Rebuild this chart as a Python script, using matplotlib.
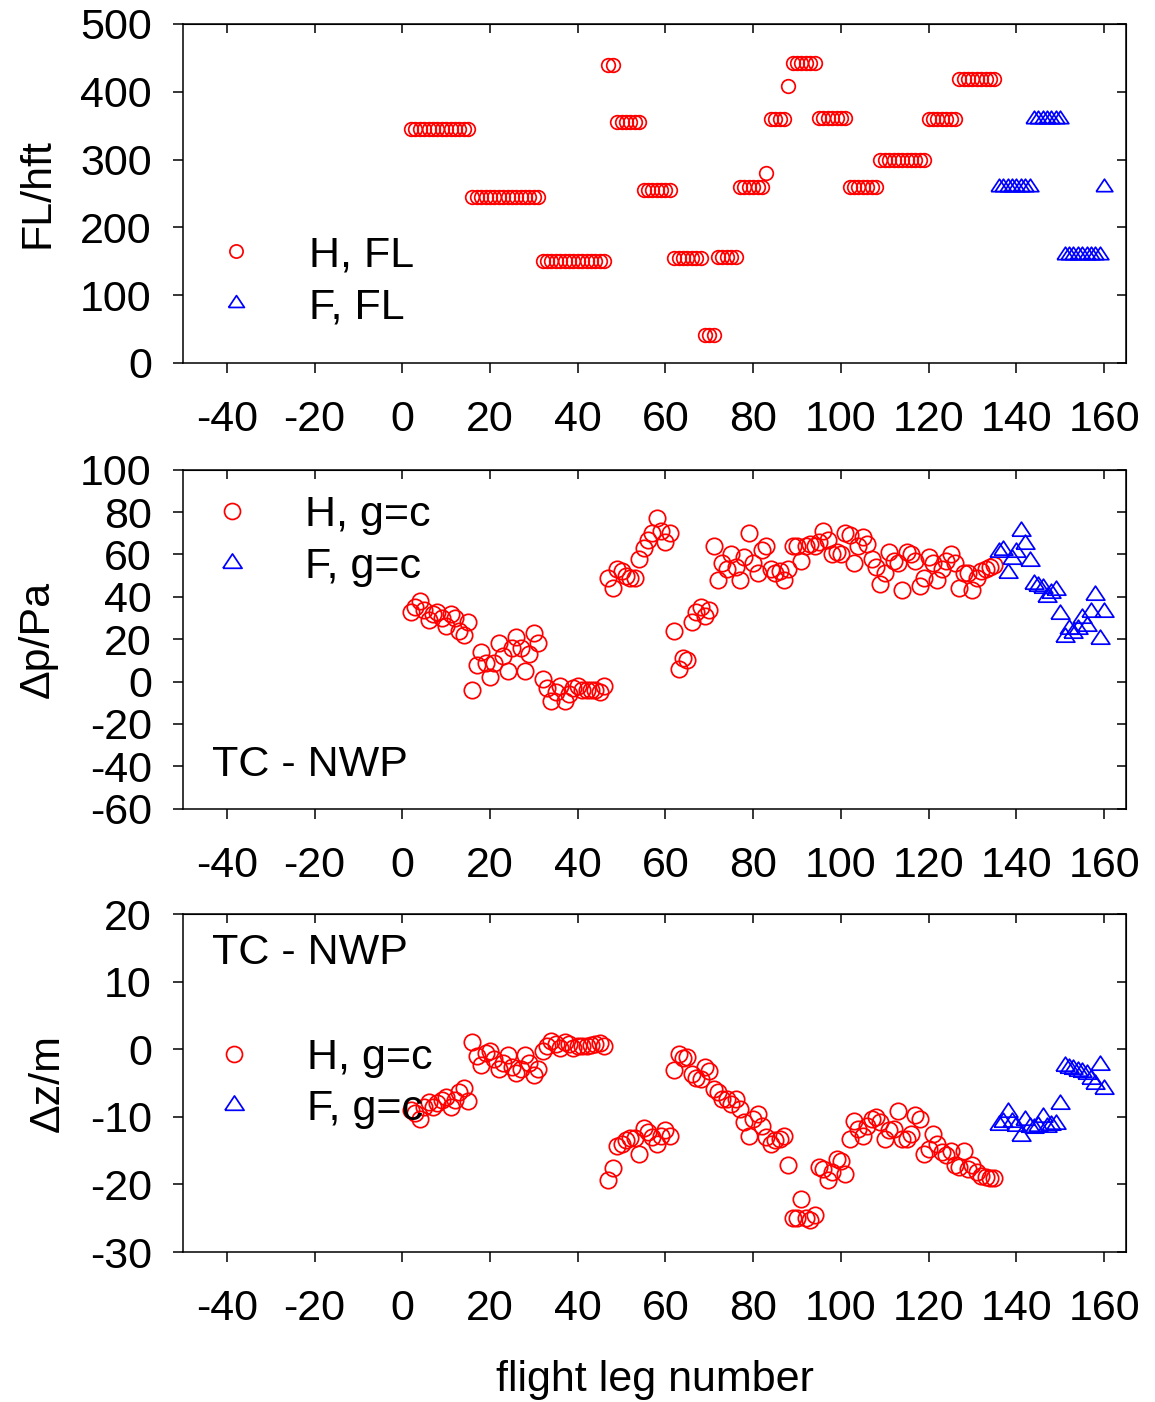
import numpy as np
import matplotlib
matplotlib.use('Agg')
import matplotlib.pyplot as plt
from matplotlib.lines import Line2D

plt.rcParams['font.family'] = ['Liberation Sans', 'DejaVu Sans']
plt.rcParams['axes.unicode_minus'] = False

# ---------------- data ----------------
legs_H = list(range(2, 136))
legs_F = list(range(136, 161))

fl_H = ([345] * 14 + [245] * 16 + [150] * 15 + [440] * 2 + [355] * 6 + [255] * 7 +
        [155] * 7 + [42] * 3 + [157] * 5 + [260] * 6 + [280] + [360] * 4 + [408] +
        [442] * 6 + [361] * 7 + [259] * 7 + [300] * 11 + [360] * 7 + [419] * 9)
fl_F = [260] * 8 + [360] * 7 + [159] * 9 + [260]

dp_H = [33, 35, 38, 34, 29, 32, 33, 30, 26, 32, 30, 24, 22, 28,
        -4, 8, 14, 9, 2, 9, 18, 12, 5, 16, 21, 16, 5, 13, 23, 18,
        1, -3, -9, -5, -2, -9, -6, -3, -2, -4, -4, -4, -4, -5, -2,
        49, 44, 53, 52, 50, 49, 49, 58, 63, 67, 70, 77, 71, 66, 70,
        24, 6, 11, 10, 28, 33, 35, 31, 34,
        64, 48, 56, 53, 60, 54, 48, 59, 70, 56, 51, 62, 64, 53, 51,
        52, 48, 53, 64, 64, 57, 64, 65, 64, 66, 71, 67, 60, 61, 60,
        70, 69, 56, 64, 68, 65, 58, 54, 46, 51, 61, 57, 56, 43, 61,
        60, 57, 45, 49, 59, 56, 48, 53, 57, 60, 56, 44, 51, 51, 43,
        49, 52, 53, 54, 55]
dp_F = [61, 62, 51, 58, 61, 71, 65, 57, 46, 45, 44, 40, 42, 43, 32,
        21, 25, 23, 25, 30, 26, 33, 41, 20, 33]

dz_H = [-9, -9.5, -10.3, -8.5, -7.8, -8.6, -8, -7.5, -7, -8.5, -7.5, -6.3, -5.7, -7.6,
        1, -1, -2.3, -0.5, -0.3, -1.5, -3, -2, -0.8, -2.7, -3.5, -3, -0.8, -2, -3.8, -3,
        -0.2, 0.5, 1.2, 0.7, 0.2, 1, 0.7, 0.2, 0.5, 0.5, 0.5, 0.6, 0.7, 0.9, 0.4,
        -19.4, -17.5, -14.3, -14, -13.5, -13.2, -13.2, -15.5, -11.6, -12.3, -13, -14, -12.8, -12, -12.8,
        -3.1, -0.7, -1.3, -1.2, -3.7, -4.3, -4.4, -2.7,
        -3.2, -5.9, -6.4, -7.4, -7.3, -8.1, -7.3, -8.8, -10.8, -12.8,
        -10.3, -9.6, -11.3, -13, -14, -13.5, -13.3, -12.8, -17.2, -25,
        -25, -22.1, -25, -25.3, -24.6, -17.4, -17.7, -19.4, -18.2, -16.2,
        -16.5, -18.4, -13.3, -10.6, -11.8, -12.8, -11.3, -10.3, -10.1, -10.8,
        -13.3, -12, -11.8, -9.1, -13.3, -13.3, -12.5, -9.8, -10.3, -15.5,
        -14.7, -12.5, -14, -15.2, -15.7, -15, -17.2, -17.4, -15, -17.7,
        -17.2, -18.2, -18.7, -18.9, -19, -19]
dz_F = [-11.2, -10.8, -9.3, -10.8, -11.3, -12.8, -10.5, -11.5, -11.6, -11.3,
        -10, -11.5, -11.2, -11, -8.1, -2.5, -2.8, -3, -3.2, -3.4,
        -3.6, -4.4, -5.2, -2.4, -5.9]

x_ticks = [-40, -20, 0, 20, 40, 60, 80, 100, 120, 140, 160]
fl_ticks = [0, 100, 200, 300, 400, 500]
dp_ticks = [-60, -40, -20, 0, 20, 40, 60, 80, 100]
dz_ticks = [-30, -20, -10, 0, 10, 20]

# ---------------- layout ----------------
W, H = 1155, 1402
fig = plt.figure(figsize=(W / 100, H / 100), dpi=100)
L, R = 183, 1126
FS = 31
RED = '#ff0000'
BLUE = '#0000ff'
TRI = [(-1, -0.5), (1, -0.5), (0, 1.0), (-1, -0.5)]
MEW = 1.25


def make_ax(top, bottom):
    return fig.add_axes([L / W, 1 - bottom / H, (R - L) / W, (bottom - top) / H])


def style(ax, yt, ylim):
    ax.set_xlim(-50, 165)
    ax.set_ylim(*ylim)
    ax.set_xticks(x_ticks)
    ax.set_yticks(yt)
    for s in ax.spines.values():
        s.set_linewidth(1.1)
    ax.tick_params(axis='x', direction='out', length=7.5, width=1.1,
                   labelsize=FS, pad=19)
    ax.tick_params(axis='y', direction='out', length=7.5, width=1.1,
                   labelsize=FS, pad=15)
    sx = ax.secondary_xaxis('top')
    sx.set_xticks(x_ticks)
    sx.tick_params(direction='in', length=6.5, width=1.1, labeltop=False, labelbottom=False)
    sy = ax.secondary_yaxis('right')
    sy.set_yticks(yt)
    sy.tick_params(direction='in', length=6.5, width=1.1, labelright=False, labelleft=False)


def legend(ax, labels, ms, x, y):
    handles = [Line2D([], [], ls='none', marker='o', mfc='none', mec=RED, mew=MEW, ms=ms),
               Line2D([], [], ls='none', marker=TRI, mfc='none', mec=BLUE, mew=MEW, ms=ms * 1.2)]
    ax.legend(handles, labels, loc='upper left', bbox_to_anchor=(x, y), frameon=False,
              handlelength=1.0, handletextpad=1.2, labelspacing=0.27, borderpad=0,
              borderaxespad=0, fontsize=FS)


# top panel
ax1 = make_ax(24, 363)
ax1.plot(legs_H, fl_H, ls='none', marker='o', mfc='none', mec=RED, mew=MEW, ms=9.8)
ax1.plot(legs_F, fl_F, ls='none', marker=TRI, mfc='none', mec=BLUE, mew=MEW, ms=12)
style(ax1, fl_ticks, (0, 500))
legend(ax1, ['H, FL', 'F, FL'], 9.5, 0.033, 0.376)
ax1.set_ylabel('FL/hft', fontsize=FS)
ax1.yaxis.set_label_coords((58 - L) / (R - L), 0.5)

# middle panel
ax2 = make_ax(469.6, 808.8)
ax2.plot(legs_H, dp_H, ls='none', marker='o', mfc='none', mec=RED, mew=MEW, ms=11.8)
ax2.plot(legs_F, dp_F, ls='none', marker=TRI, mfc='none', mec=BLUE, mew=MEW, ms=13.5)
style(ax2, dp_ticks, (-60, 100))
legend(ax2, ['H, g=c', 'F, g=c'], 11.5, 0.029, 0.924)
ax2.text(0.031, 0.129, 'TC - NWP', transform=ax2.transAxes, fontsize=FS,
         ha='left', va='center')
ax2.set_ylabel('Δp/Pa', fontsize=FS)
ax2.yaxis.set_label_coords((58 - L) / (R - L), 0.5)

# bottom panel
ax3 = make_ax(914, 1252)
ax3.plot(legs_H, dz_H, ls='none', marker='o', mfc='none', mec=RED, mew=MEW, ms=11.8)
ax3.plot(legs_F, dz_F, ls='none', marker=TRI, mfc='none', mec=BLUE, mew=MEW, ms=13.5)
style(ax3, dz_ticks, (-30, 20))
legend(ax3, ['H, g=c', 'F, g=c'], 11.5, 0.031, 0.634)
ax3.text(0.031, 0.885, 'TC - NWP', transform=ax3.transAxes, fontsize=FS,
         ha='left', va='center')
ax3.set_ylabel('Δz/m', fontsize=FS)
ax3.yaxis.set_label_coords((68 - L) / (R - L), 0.5)
ax3.set_xlabel('flight leg number', fontsize=FS)
ax3.xaxis.set_label_coords((655 - L) / (R - L), (1252 - 1360) / 338)

fig.savefig('out.png', dpi=100)
